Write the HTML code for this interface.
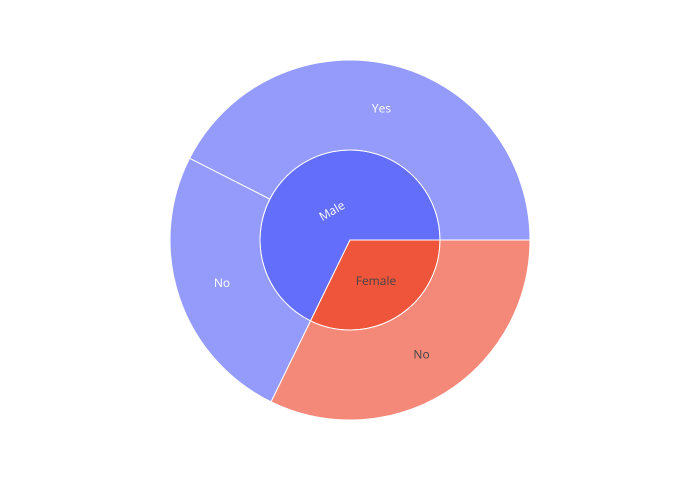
<!DOCTYPE html>
<html><head><meta charset="utf-8"><style>
html,body{margin:0;padding:0;background:#fff;width:700px;height:500px;overflow:hidden}
text{font-family:"Open Sans","Liberation Sans",sans-serif;font-size:12px}
</style></head><body>
<svg id="chart" width="700" height="500" viewBox="0 0 700 500"></svg>
<script>
const parents = ["Male","Female"];
const parentValues = [244,116];
const childParents = ["Male","Male","Female"];
const childLabels = ["Yes","No","No"];
const childValues = [153,91,116];
const cx=350, cy=240, r0=90, r1=180;
const colors={Male:["#636efa","#949bfb"],Female:["#ef553b","#f4897a"]};
const svg=document.getElementById('chart');
const NS="http://www.w3.org/2000/svg";
const total=parentValues.reduce((a,b)=>a+b,0);
function ang(v){return v/total*2*Math.PI;}
function pt(a,r){return [cx+r*Math.cos(a), cy-r*Math.sin(a)];}
function arc(a0,a1,ri,ro){
  const big=(a1-a0)>Math.PI?1:0;
  const p1=pt(a0,ro),p2=pt(a1,ro);
  if(ri===0){return `M${cx},${cy}L${p1}A${ro},${ro} 0 ${big} 0 ${p2}Z`;}
  const p3=pt(a1,ri),p4=pt(a0,ri);
  return `M${p1}A${ro},${ro} 0 ${big} 0 ${p2}L${p3}A${ri},${ri} 0 ${big} 1 ${p4}Z`;
}
function addText(x,y,s,fill,rot,name){
  const t=document.createElementNS(NS,'text');
  t.setAttribute('x',x);t.setAttribute('y',y+4);
  t.setAttribute('text-anchor','middle');t.setAttribute('fill',fill);
  if(rot)t.setAttribute('transform',`rotate(${rot} ${x} ${y})`);
  t.textContent=s;
  
  
  svg.appendChild(t);
}
// inner ring
let a=0; const pStart={};
parents.forEach((p,i)=>{
  const a0=a,a1=a+ang(parentValues[i]); pStart[p]=a0;
  const path=document.createElementNS(NS,'path');
  path.setAttribute('d',arc(a0,a1,0,r0));
  path.setAttribute('fill',colors[p][0]);path.setAttribute('stroke','#fff');path.setAttribute('stroke-width','1');
  
  
  svg.appendChild(path);
  a=a1;
});
// outer ring
const cur=Object.assign({},pStart);
childLabels.forEach((l,i)=>{
  const p=childParents[i];
  const a0=cur[p],a1=a0+ang(childValues[i]);cur[p]=a1;
  const path=document.createElementNS(NS,'path');
  path.setAttribute('d',arc(a0,a1,r0,r1));
  path.setAttribute('fill',colors[p][1]);path.setAttribute('stroke','#fff');path.setAttribute('stroke-width','1');
  
  
  svg.appendChild(path);
  const m=(a0+a1)/2, q=pt(m,(r0+r1)/2+(l==="Yes"?0:0));
  addText(q[0],q[1],l,p==="Male"?"#fff":"#444",0,'label-'+p.toLowerCase()+'-'+l.toLowerCase());
});
// inner labels
addText(332,211,"Male","#fff",-30,'label-male');
addText(376,281,"Female","#444",0,'label-female');
</script>
</body></html>
